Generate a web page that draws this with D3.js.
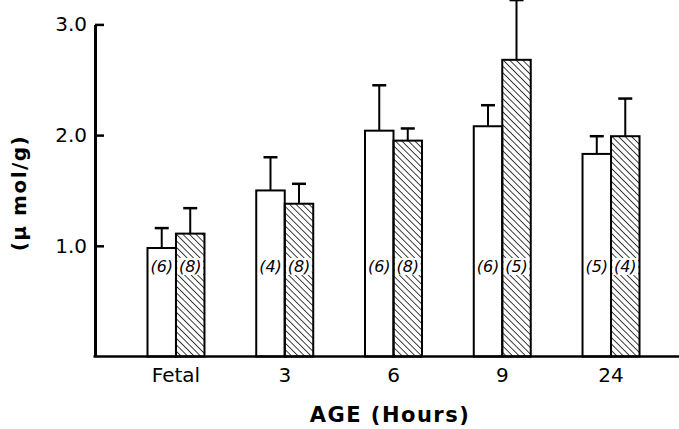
<html>
<head>
  <script src="https://cdn.jsdelivr.net/npm/d3@7"></script>
  <style>
    body { margin: 0; background: #fff; }
  </style>
</head>
<body>
  <div id="chart"></div>
  <script>
    // data
    const ages = ["Fetal", "3", "6", "9", "24"];
    const groups = ["open", "hatched"];
    const openMeans = [0.98, 1.50, 2.04, 2.08, 1.83];
    const openErrTop = [1.16, 1.80, 2.45, 2.27, 1.99];
    const openN = ["(6)", "(4)", "(6)", "(6)", "(5)"];
    const hatchMeans = [1.11, 1.38, 1.95, 2.68, 1.99];
    const hatchErrTop = [1.34, 1.56, 2.06, 3.22, 2.33];
    const hatchN = ["(8)", "(8)", "(8)", "(5)", "(4)"];
    const yTicks = [1.0, 2.0, 3.0];

    const width = 679, height = 429;
    const font = "DejaVu Sans";

    let bars = [];
    ages.forEach((a, i) => {
      bars.push({age: a, group: "open", value: openMeans[i], err: openErrTop[i], n: openN[i]});
      bars.push({age: a, group: "hatched", value: hatchMeans[i], err: hatchErrTop[i], n: hatchN[i]});
    });

    const svg = d3.select("#chart").append("svg")
      .attr("width", width)
      .attr("height", height);

    // hatch pattern, lines running top-left to bottom-right
    const defs = svg.append("defs");
    defs.append("pattern")
      .attr("id", "hatch")
      .attr("patternUnits", "userSpaceOnUse")
      .attr("width", 4.6)
      .attr("height", 4.6)
      .attr("patternTransform", "rotate(-45)")
      .append("line")
        .attr("x1", 0).attr("y1", 0)
        .attr("x2", 0).attr("y2", 4.6)
        .attr("stroke", "#000")
        .attr("stroke-width", 1.5);

    const x0 = d3.scaleBand()
      .domain(ages)
      .range([121.6, 665.4])
      .paddingInner(0.476)
      .paddingOuter(0.238);

    const x1 = d3.scaleBand()
      .domain(groups)
      .range([0, x0.bandwidth()]);

    const y = d3.scaleLinear()
      .domain([0, 3])
      .range([356.5, 24.4]);

    const axisX = 95;

    // y axis
    svg.append("g")
      .attr("transform", `translate(${axisX},0)`)
      .call(d3.axisLeft(y).tickValues(yTicks).tickFormat(d3.format(".1f"))
        .tickSizeInner(-9).tickSizeOuter(0).tickPadding(8))
      .call(g => g.select(".domain").attr("stroke-width", 3))
      .call(g => g.selectAll(".tick line").attr("stroke-width", 2.5))
      .call(g => g.selectAll("text")
        .attr("font-family", font)
        .attr("font-size", 20)
        .attr("fill", "#000"));

    // x axis labels
    svg.append("g")
      .attr("transform", `translate(0,${y(0)})`)
      .call(d3.axisBottom(x0).tickSize(0).tickPadding(11))
      .call(g => g.select(".domain").remove())
      .call(g => g.selectAll("text")
        .attr("font-family", font)
        .attr("font-size", 20)
        .attr("fill", "#000"));

    // bars
    const barG = svg.append("g");
    barG.selectAll("rect")
      .data(bars)
      .join("rect")
        .attr("x", d => x0(d.age) + x1(d.group))
        .attr("y", d => y(d.value))
        .attr("width", x1.bandwidth())
        .attr("height", d => y(0) - y(d.value))
        .attr("fill", d => d.group === "open" ? "#fff" : "url(#hatch)")
        .attr("stroke", "#000")
        .attr("stroke-width", 2);

    // error bars
    const errG = svg.append("g")
      .attr("stroke", "#000")
      .attr("stroke-width", 2);
    errG.selectAll("line.stem")
      .data(bars)
      .join("line")
        .attr("class", "stem")
        .attr("x1", d => x0(d.age) + x1(d.group) + x1.bandwidth() / 2)
        .attr("x2", d => x0(d.age) + x1(d.group) + x1.bandwidth() / 2)
        .attr("y1", d => y(d.value))
        .attr("y2", d => y(d.err));
    errG.selectAll("line.cap")
      .data(bars)
      .join("line")
        .attr("class", "cap")
        .attr("stroke-width", 2.5)
        .attr("x1", d => x0(d.age) + x1(d.group) + x1.bandwidth() / 2 - 7)
        .attr("x2", d => x0(d.age) + x1(d.group) + x1.bandwidth() / 2 + 7)
        .attr("y1", d => y(d.err))
        .attr("y2", d => y(d.err));

    // white strip behind n labels on the hatched bars
    const labelY = 266.5;
    svg.append("g")
      .selectAll("rect")
      .data(bars.filter(d => d.group === "hatched"))
      .join("rect")
        .attr("x", d => x0(d.age) + x1(d.group) + 1.5)
        .attr("y", labelY - 8.5)
        .attr("width", x1.bandwidth() - 3)
        .attr("height", 17)
        .attr("fill", "#fff");

    svg.append("g")
      .attr("font-family", font)
      .attr("font-style", "italic")
      .attr("font-size", 16)
      .attr("text-anchor", "middle")
      .selectAll("text")
      .data(bars)
      .join("text")
        .attr("x", d => x0(d.age) + x1(d.group) + x1.bandwidth() / 2)
        .attr("y", labelY)
        .attr("dy", "0.35em")
        .text(d => d.n);

    // baseline
    svg.append("line")
      .attr("x1", axisX - 1.5)
      .attr("x2", width)
      .attr("y1", y(0))
      .attr("y2", y(0))
      .attr("stroke", "#000")
      .attr("stroke-width", 2.5);

    // axis titles
    svg.append("text")
      .attr("x", 390)
      .attr("y", 422)
      .attr("text-anchor", "middle")
      .attr("font-family", font)
      .attr("font-weight", "bold")
      .attr("font-size", 21)
      .attr("letter-spacing", 1.5)
      .text("AGE (Hours)");

    svg.append("text")
      .attr("transform", "rotate(-90)")
      .attr("x", -193)
      .attr("y", 26)
      .attr("text-anchor", "middle")
      .attr("font-family", font)
      .attr("font-weight", "bold")
      .attr("font-size", 20)
      .attr("letter-spacing", 1.5)
      .text("(\u03bc mol/g)");
  </script>
</body>
</html>
